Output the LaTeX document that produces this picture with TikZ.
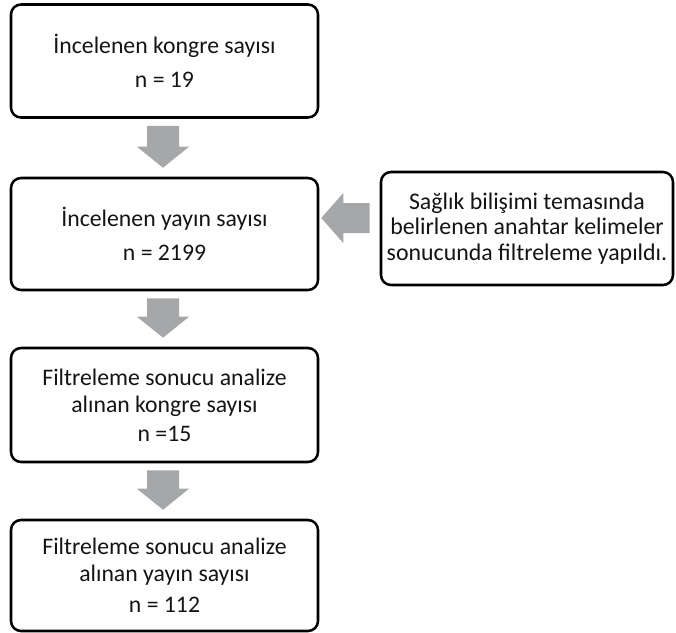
\documentclass[tikz,border=0pt]{standalone}
\usepackage{fontspec}
\setmainfont{Carlito}
\usetikzlibrary{calc}
\definecolor{arrowgray}{RGB}{165,167,168}
\definecolor{txt}{RGB}{20,20,20}
\begin{document}
\begin{tikzpicture}[x=0.75pt,y=-0.75pt,
  box/.style={draw=black, line width=1.9pt, rounded corners=7.5pt, align=center,
    text=txt, font=\fontsize{17.8}{20.4}\selectfont, inner sep=1pt},
  mainbox/.style={box, minimum width=230.25pt},
  arr/.style={fill=arrowgray, draw=none}]
\useasboundingbox (0,0) rectangle (676,633);
\node[mainbox, minimum height=84.75pt] (b1) at (164.5,61) {İncelenen kongre sayısı\\[5pt]n = 19};
\node[mainbox, minimum height=84pt] (b2) at (164.5,234) {İncelenen yayın sayısı\\[5pt]n = 2199};
\node[mainbox, minimum height=85.5pt] (b3) at (164.5,405) {Filtreleme sonucu analize\\alınan kongre sayısı\\[1pt]n =15};
\node[mainbox, minimum height=83.25pt] (b4) at (164.5,575.5) {Filtreleme sonucu analize\\alınan yayın sayısı\\[3pt]n = 112};
\node[box, minimum width=219pt, minimum height=84.75pt, font=\fontsize{17.9}{18.9}\selectfont] (r) at (527,228.5)
  {Sağlık bilişimi temasında\\belirlenen anahtar kelimeler\\sonucunda filtreleme yapıldı.};
% down arrows
\foreach \a/\b in {b1/b2, b2/b3, b3/b4}{
  \fill[arr] ($(\a.south)+(-17.5,7)$) -- ($(\a.south)+(14.5,7)$) -- ($(\b.north)+(14.5,-30)$)
    -- ($(\b.north)+(24.5,-30)$) -- ($(\b.north)+(-1.5,-9)$) -- ($(\b.north)+(-27.5,-30)$)
    -- ($(\b.north)+(-17.5,-30)$) -- cycle;
}
% left arrow
\fill[arr] ($(r.west)+(-10,-25.5)$) -- ($(r.west)+(-10,4.5)$) -- ($(b2.east)+(24,-1)$)
  -- ($(b2.east)+(24,9)$) -- ($(b2.east)+(2,-16)$) -- ($(b2.east)+(24,-41)$)
  -- ($(b2.east)+(24,-31)$) -- cycle;
\end{tikzpicture}
\end{document}
